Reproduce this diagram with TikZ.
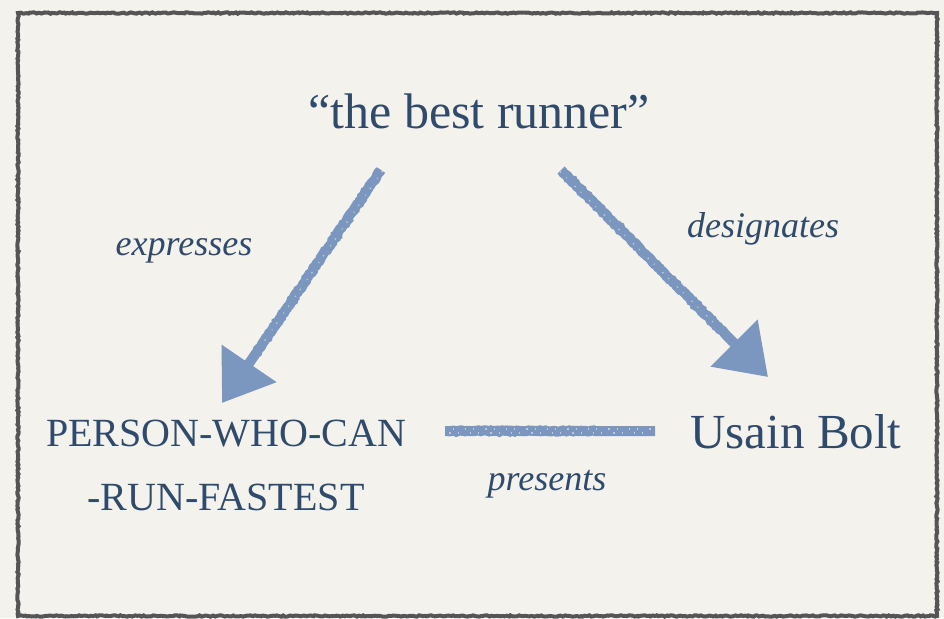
\documentclass[tikz,border=0pt]{standalone}
\usepackage{fontspec}
\setmainfont{Liberation Serif}
\usetikzlibrary{arrows.meta,decorations.pathmorphing,calc}

\definecolor{paper}{HTML}{F4F2ED}
\definecolor{frame}{HTML}{555555}
\definecolor{ink}{HTML}{2F4A6B}
\definecolor{chalk}{HTML}{7B97BF}

\tikzset{
  term/.style={text=ink, inner sep=0pt, anchor=base},
  rel/.style={text=ink, inner sep=0pt, anchor=base, font=\fontsize{36}{40}\selectfont\itshape},
  chalkline/.style={draw=chalk, line width=10pt,
    decorate, decoration={random steps, segment length=2pt, amplitude=0.7pt,
      pre=lineto, pre length=2pt, post=lineto, post length=60pt}},
  chalkarrow/.style={chalkline, -{Triangle[length=48pt,width=64pt]}},
  chalkgrain/.style={draw=paper, line width=1.2pt, opacity=0.55,
    dash pattern=on 1.5pt off 7pt on 1pt off 11pt},
  roughframe/.style={draw=frame, line width=4pt,
    decorate, decoration={random steps, segment length=2pt, amplitude=0.7pt}}
}

\begin{document}
\begin{tikzpicture}[x=1pt, y=-1pt]
  % page and frame
  \fill[paper] (0,0) rectangle (944,618);
  \useasboundingbox (0,0) rectangle (944,618);
  \draw[roughframe] (18,13) -- (937,13) -- (937,616) -- (18,616) -- cycle;

  % terms
  \node[term, font=\fontsize{50}{54}\selectfont] (sign) at (479,128) {“the best runner”};
  \node[term, font=\fontsize{40}{44}\selectfont] (sense1) at (226,446) {PERSON-WHO-CAN};
  \node[term, font=\fontsize{40}{44}\selectfont] (sense2) at (226,510) {-RUN-FASTEST};
  \node[term, font=\fontsize{49}{52}\selectfont] (ref) at (796,448) {Usain Bolt};

  % relation labels
  \node[rel] (expr) at (184,255) {expresses};
  \node[rel] (desig) at (763,237) {designates};
  \node[rel] (pres) at (547,490) {presents};

  % connector end points
  \coordinate (exprFrom) at (381,170);
  \coordinate (exprTo) at (222,403);
  \coordinate (desigFrom) at (561,170);
  \coordinate (desigTo) at (768,377);
  \coordinate (presFrom) at (445,431);
  \coordinate (presTo) at (655,431);

  % connectors
  \draw[chalkarrow] (exprFrom) -- (exprTo);
  \draw[chalkarrow] (desigFrom) -- (desigTo);
  \draw[chalkline] (presFrom) -- (presTo);

  % chalk grain on the strokes
  \draw[chalkgrain] ([shift={(1.5,1)}]exprFrom) -- ($(exprFrom)!0.75!(exprTo)$);
  \draw[chalkgrain] ([shift={(-1,1.5)}]desigFrom) -- ($(desigFrom)!0.75!(desigTo)$);
  \draw[chalkgrain] ([shift={(4,2)}]presFrom) -- ([shift={(-4,2)}]presTo);
  \draw[chalkgrain, dash phase=5pt] ([shift={(4,-2)}]presFrom) -- ([shift={(-4,-2)}]presTo);
\end{tikzpicture}
\end{document}
